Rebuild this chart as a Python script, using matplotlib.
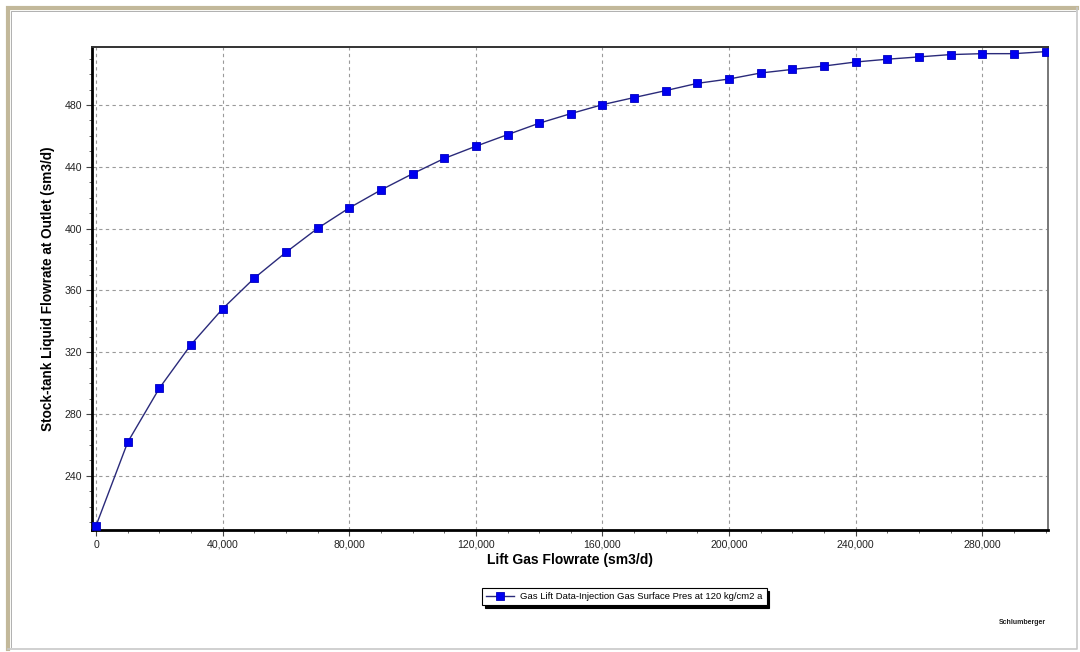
import matplotlib
matplotlib.use("Agg")
import matplotlib.pyplot as plt
from matplotlib.lines import Line2D
from matplotlib.ticker import MultipleLocator, FuncFormatter

# lift gas rate (sm3/d) vs liquid rate at outlet (sm3/d)
gas_rate = [0, 10000, 20000, 30000, 40000, 50000, 60000, 70000, 80000, 90000,
            100000, 110000, 120000, 130000, 140000, 150000, 160000, 170000, 180000, 190000,
            200000, 210000, 220000, 230000, 240000, 250000, 260000, 270000, 280000, 290000,
            300000]
liquid_rate = [207.9, 261.9, 296.8, 325.0, 348.2, 368.0, 384.7, 400.2, 413.4, 425.0,
               435.5, 445.4, 453.3, 460.8, 468.2, 474.4, 480.2, 484.8, 489.3, 494.0,
               496.8, 500.7, 503.0, 505.2, 507.8, 509.6, 511.1, 512.6, 513.2, 513.2,
               514.5]
series_name = "Gas Lift Data-Injection Gas Surface Pres at 120 kg/cm2 a"

sans = ["Liberation Sans", "DejaVu Sans"]

fig = plt.figure(figsize=(10.8, 6.52), dpi=100)
fig.patch.set_facecolor("white")

# sunken panel frame: tan on top/left, light grey on right/bottom
L, R, B, T = 0.0075, 0.9975, 0.004, 0.9875
fig.lines.append(Line2D([L, L, R], [B, T, T], transform=fig.transFigure,
                        color="#c2b89a", linewidth=3.0, solid_joinstyle="miter"))
fig.lines.append(Line2D([L + 0.0025, L + 0.0025, R - 0.002], [B + 0.003, T - 0.004, T - 0.004],
                        transform=fig.transFigure, color="#b0b0b0", linewidth=0.7))
fig.lines.append(Line2D([L, R, R], [B, B, T], transform=fig.transFigure,
                        color="#c8c8c8", linewidth=1.2))

ax = fig.add_axes([0.0849, 0.1871, 0.8855, 0.7408])
ax.plot(gas_rate, liquid_rate, color="#2a2a7a", linewidth=1.0,
        marker="s", markersize=6.2, markerfacecolor="#0000f0",
        markeredgecolor="#0000c0", markeredgewidth=0.6, label=series_name, zorder=3)

ax.set_xlim(-1400, 300800)
ax.set_ylim(205, 517.5)

ax.xaxis.set_major_locator(MultipleLocator(40000))
ax.xaxis.set_minor_locator(MultipleLocator(10000))
ax.yaxis.set_major_locator(MultipleLocator(40))
ax.yaxis.set_minor_locator(MultipleLocator(10))
ax.xaxis.set_major_formatter(FuncFormatter(lambda v, p: f"{int(v):,}"))
ax.set_yticks([240, 280, 320, 360, 400, 440, 480])

ax.grid(True, which="major", linestyle=(0, (3, 3)), color="#9a9a9a", linewidth=0.8)
ax.tick_params(axis="both", which="major", length=4, width=0.8, color="#444444",
               labelsize=7.6, pad=3)
ax.tick_params(axis="both", which="minor", length=2.5, width=0.7, color="#666666")
for lab in ax.get_xticklabels() + ax.get_yticklabels():
    lab.set_family(sans)
    lab.set_color("#222222")

for side in ["left", "bottom"]:
    ax.spines[side].set_linewidth(2.0)
    ax.spines[side].set_color("black")
ax.spines["top"].set_linewidth(1.4)
ax.spines["top"].set_color("#333333")
ax.spines["right"].set_linewidth(1.4)
ax.spines["right"].set_color("#777777")

ax.set_xlabel("Lift Gas Flowrate (sm3/d)", family=sans, fontsize=10,
              fontweight="bold", labelpad=2)
ax.set_ylabel("Stock-tank Liquid Flowrate at Outlet (sm3/d)", family=sans,
              fontsize=9.8, fontweight="bold", labelpad=7)

leg = fig.legend(loc="center", bbox_to_anchor=(0.578, 0.085), frameon=True,
                 fancybox=False, shadow={"color": "black", "alpha": 1.0},
                 prop={"family": sans, "size": 6.8}, handlelength=3.0,
                 borderpad=0.45, handletextpad=0.6, markerscale=0.9)
leg.get_frame().set_edgecolor("black")
leg.get_frame().set_linewidth(0.8)

fig.text(0.9463, 0.046, "Schlumberger", family=sans, fontsize=5,
         fontweight="bold", ha="center", va="center", color="#222222")

fig.savefig("out.png", dpi=100)
